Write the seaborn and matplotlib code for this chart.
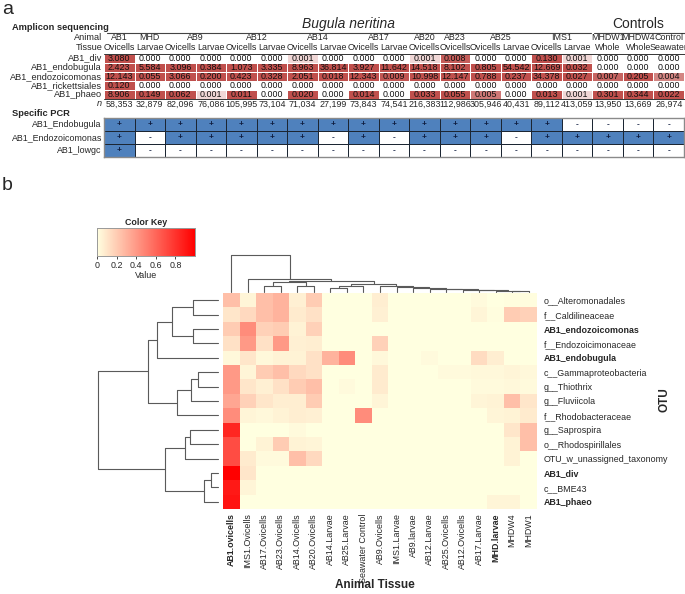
import numpy as np
import pandas as pd
import matplotlib
matplotlib.use("Agg")
import matplotlib.pyplot as plt
from matplotlib.colors import LinearSegmentedColormap, ListedColormap
import seaborn as sns

sns.set_style("white")
plt.rcParams['font.family'] = ['Liberation Sans', 'DejaVu Sans']

# ---------------- DATA: panel a ----------------
animals = ['AB1', 'MHD', 'AB9', 'AB9', 'AB12', 'AB12', 'AB14', 'AB14', 'AB17', 'AB17',
           'AB20', 'AB23', 'AB25', 'AB25', 'IMS1', 'IMS1', 'MHDW1', 'MHDW4', 'Control']
tissues = ['Ovicells', 'Larvae', 'Ovicells', 'Larvae', 'Ovicells', 'Larvae', 'Ovicells', 'Larvae',
           'Ovicells', 'Larvae', 'Ovicells', 'Ovicells', 'Ovicells', 'Larvae', 'Ovicells', 'Larvae',
           'Whole', 'Whole', 'Seawater']
amp_rows = ['AB1_div', 'AB1_endobugula', 'AB1_endozoicomonas', 'AB1_rickettsiales', 'AB1_phaeo']
amp_div = [3.080, 0.000, 0.000, 0.000, 0.000, 0.000, 0.001, 0.000, 0.000, 0.000,
           0.001, 0.008, 0.000, 0.000, 0.130, 0.001, 0.000, 0.000, 0.000]
amp_endobugula = [2.423, 5.584, 3.096, 0.384, 1.073, 3.335, 8.963, 36.814, 3.927, 11.642,
                  14.518, 8.102, 0.805, 54.542, 12.669, 0.032, 0.000, 0.000, 0.000]
amp_endozoicomonas = [12.143, 0.055, 3.066, 0.200, 0.423, 0.328, 2.051, 0.018, 12.343, 0.009,
                      10.998, 12.147, 0.788, 0.237, 34.378, 0.027, 0.007, 0.205, 0.004]
amp_rickettsiales = [0.120, 0.000, 0.000, 0.000, 0.000, 0.000, 0.000, 0.000, 0.000, 0.000,
                     0.000, 0.000, 0.000, 0.000, 0.000, 0.000, 0.000, 0.000, 0.000]
amp_phaeo = [8.906, 0.149, 0.062, 0.001, 0.011, 0.000, 0.020, 0.000, 0.014, 0.000,
             0.033, 0.055, 0.005, 0.000, 0.013, 0.001, 0.301, 0.344, 0.022]
n_reads = [58353, 32879, 82096, 76086, 105995, 73104, 71034, 27199, 73843, 74541,
           216383, 112986, 305946, 40431, 89112, 413059, 13950, 13669, 26974]

pcr_rows = ['AB1_Endobugula', 'AB1_Endozoicomonas', 'AB1_lowgc']
pcr_endobugula = list('+++++++++++++++----')
pcr_endozoicomonas = list('+-+++++-+-+++-+++++')
pcr_lowgc = list('+------------------')

# ---------------- DATA: panel b ----------------
hm_rows = ['o__Alteromonadales', 'f__Caldilineaceae', 'AB1_endozoicomonas', 'f__Endozoicimonaceae',
           'AB1_endobugula', 'c__Gammaproteobacteria', 'g__Thiothrix', 'g__Fluviicola',
           'f__Rhodobacteraceae', 'g__Saprospira', 'o__Rhodospirillales', 'OTU_w_unassigned_taxonomy',
           'AB1_div', 'c__BME43', 'AB1_phaeo']
hm_cols = ['AB1.ovicells', 'IMS1.Ovicells', 'AB17.Ovicells', 'AB23.Ovicells', 'AB14.Ovicells',
           'AB20.Ovicells', 'AB14.Larvae', 'AB25.Larvae', 'Seawater Control', 'AB9.Ovicells',
           'IMS1.Larvae', 'AB9.larvae', 'AB12.Larvae', 'AB25.Ovicells', 'AB12.Ovicells',
           'AB17.Larvae', 'MHD.larvae', 'MHDW4', 'MHDW1']
hm_values = [
    [0.25, 0.04, 0.25, 0.30, 0.06, 0.20, 0, 0, 0, 0.07, 0, 0, 0, 0, 0, 0.02, 0, 0.01, 0.01],
    [0.10, 0.15, 0.25, 0.30, 0.08, 0.12, 0, 0, 0, 0.06, 0, 0, 0, 0, 0, 0.04, 0.01, 0.20, 0.18],
    [0.20, 0.45, 0.18, 0.20, 0.05, 0.18, 0, 0, 0, 0, 0, 0, 0, 0, 0, 0, 0, 0, 0],
    [0.12, 0.40, 0.12, 0.40, 0.06, 0.07, 0, 0, 0, 0.18, 0, 0, 0, 0, 0, 0, 0, 0, 0],
    [0.03, 0.10, 0.03, 0.05, 0.05, 0.12, 0.30, 0.45, 0, 0.03, 0, 0, 0.02, 0, 0, 0.14, 0.07, 0, 0],
    [0.40, 0.04, 0.20, 0.25, 0.15, 0.12, 0, 0, 0, 0.08, 0, 0, 0, 0.02, 0.02, 0.03, 0.03, 0.04, 0.03],
    [0.40, 0.10, 0.06, 0.12, 0.20, 0.25, 0, 0.02, 0, 0.08, 0, 0, 0, 0, 0, 0.02, 0.02, 0.03, 0.02],
    [0.35, 0.18, 0.10, 0.07, 0.07, 0.20, 0, 0, 0, 0.04, 0, 0, 0, 0, 0, 0.04, 0.05, 0.25, 0.10],
    [0.45, 0.04, 0.03, 0.05, 0.07, 0.06, 0, 0, 0.45, 0, 0, 0, 0, 0, 0, 0, 0.04, 0.05, 0.08],
    [0.85, 0, 0, 0, 0.02, 0, 0, 0, 0, 0, 0, 0, 0, 0, 0, 0, 0, 0.10, 0.25],
    [0.70, 0, 0.05, 0.20, 0.05, 0.04, 0, 0, 0, 0, 0, 0, 0, 0, 0, 0, 0, 0.05, 0.25],
    [0.70, 0.08, 0.02, 0.02, 0.25, 0.15, 0, 0, 0, 0, 0, 0, 0, 0, 0, 0, 0, 0.05, 0],
    [1.00, 0.10, 0, 0, 0, 0, 0, 0, 0, 0, 0, 0, 0, 0, 0, 0, 0, 0, 0],
    [0.90, 0.04, 0, 0, 0, 0, 0, 0, 0, 0, 0, 0, 0, 0, 0, 0, 0, 0, 0],
    [0.92, 0, 0, 0, 0, 0, 0, 0, 0, 0, 0, 0, 0, 0, 0, 0, 0.04, 0.04, 0],
]
# dendrogram merges (child_a, child_b, height); new cluster ids start at n
row_merges = [(0, 1, 25), (2, 3, 25), (15, 16, 46), (17, 4, 61), (5, 6, 20), (19, 7, 27),
              (20, 8, 41), (18, 21, 70), (9, 10, 28), (23, 11, 33), (12, 13, 7), (25, 14, 14),
              (24, 26, 53), (22, 27, 120)]
col_merges = [(2, 3, 6), (4, 5, 6), (19, 20, 10), (6, 7, 4), (22, 8, 6),
              (17, 18, 1), (16, 24, 1.5), (15, 25, 2), (14, 26, 2.5), (13, 27, 3),
              (12, 28, 3.5), (11, 29, 4), (10, 30, 5), (9, 31, 6),
              (23, 32, 8), (21, 33, 11), (1, 34, 13), (0, 35, 37)]
bold_names = ['AB1_endozoicomonas', 'AB1_endobugula', 'AB1_div', 'AB1_phaeo',
              'AB1.ovicells', 'MHD.larvae']

# ---------------- FIGURE ----------------
W, H = 685, 594
fig = plt.figure(figsize=(W / 100, H / 100), dpi=100)


def rect(x0, y0, x1, y1):
    return [x0 / W, 1 - y1 / H, (x1 - x0) / W, (y1 - y0) / H]


def ftext(x, y, s, **kw):
    fig.text(x / W, 1 - y / H, s, **kw)


FS = 6.4
# ---- panel a: amplicon table ----
amp_vals = np.array([amp_div, amp_endobugula, amp_endozoicomonas, amp_rickettsiales, amp_phaeo])
shade = np.where(amp_vals > 0,
                 np.clip((np.log10(np.maximum(amp_vals, 1e-9)) + 3.3) / 1.3, 0, 1), 0)
amp_df = pd.DataFrame(shade, index=amp_rows)
amp_cmap = LinearSegmentedColormap.from_list('amp', ['#ffffff', '#c0504d'])
ax_amp = fig.add_axes(rect(104, 53.5, 684, 99))
sns.heatmap(amp_df, ax=ax_amp, cmap=amp_cmap, vmin=0, vmax=1, annot=amp_vals, fmt='.3f',
            annot_kws={'fontsize': FS, 'color': '#111111'}, cbar=False,
            linewidths=0.4, linecolor='white', xticklabels=False, yticklabels=amp_rows)
ax_amp.tick_params(left=False, bottom=False, length=0, pad=1.5, labelsize=6.6)
plt.setp(ax_amp.get_yticklabels(), rotation=0)
row_h = (99 - 53.5) / 5


def yd(py):
    return (py - 53.5) / row_h


ncol = len(tissues)
for i in range(ncol):
    ax_amp.text(i + 0.5, yd(47), tissues[i], ha='center', va='center', fontsize=FS, clip_on=False)
    ax_amp.text(i + 0.5, yd(104), f"{n_reads[i]:,}", ha='center', va='center', fontsize=FS,
                clip_on=False)
# group names centred over their columns
i = 0
while i < ncol:
    j = i
    while j + 1 < ncol and animals[j + 1] == animals[i]:
        j += 1
    ax_amp.text((i + j + 1) / 2, yd(37.5), animals[i], ha='center', va='center', fontsize=FS,
                clip_on=False)
    i = j + 1
ax_amp.text(-0.06, yd(37.5), 'Animal', ha='right', va='center', fontsize=6.6, clip_on=False)
ax_amp.text(-0.06, yd(47), 'Tissue', ha='right', va='center', fontsize=6.6, clip_on=False)
ax_amp.text(-0.06, yd(104), 'n', ha='right', va='center', fontsize=6.6, style='italic',
            clip_on=False)
ax_amp.plot([0.1, 15.95], [yd(33)] * 2, color='#444444', lw=0.8, clip_on=False)
ax_amp.plot([16.05, 19.2], [yd(33)] * 2, color='#444444', lw=0.8, clip_on=False)
ax_amp.plot([0, 19.2], [0, 0], color='#333333', lw=0.7, clip_on=False)
ax_amp.plot([0, 19.2], [5, 5], color='#333333', lw=0.7, clip_on=False)
ax_amp.text(8, yd(24), 'Bugula neritina', ha='center', va='center', fontsize=10,
            style='italic', clip_on=False)
ax_amp.text(17.5, yd(24), 'Controls', ha='center', va='center', fontsize=10, clip_on=False)

ftext(2, 10, 'a', fontsize=14, va='center', ha='left')
ftext(12, 27, 'Amplicon sequencing', fontsize=6.7, fontweight='bold', va='center')
ftext(12, 113, 'Specific PCR', fontsize=6.7, fontweight='bold', va='center')

# ---- panel a: PCR table ----
pcr_str = np.array([pcr_endobugula, pcr_endozoicomonas, pcr_lowgc])
pcr_num = pd.DataFrame((pcr_str == '+').astype(float), index=pcr_rows)
ax_pcr = fig.add_axes(rect(104, 118, 684, 157))
sns.heatmap(pcr_num, ax=ax_pcr, cmap=ListedColormap(['#ffffff', '#4f81bd']), vmin=0, vmax=1,
            annot=pcr_str, fmt='', annot_kws={'fontsize': 6, 'color': '#0d1b3e',
                                              'fontweight': 'bold'},
            cbar=False, linewidths=0.7, linecolor='#1c2633', xticklabels=False,
            yticklabels=pcr_rows)
ax_pcr.tick_params(left=False, bottom=False, length=0, pad=1.5, labelsize=6.4)
plt.setp(ax_pcr.get_yticklabels(), rotation=0)
for sp in ax_pcr.spines.values():
    sp.set_visible(True)
    sp.set_color('#8a8a8a')
    sp.set_linewidth(1.0)

# ---- panel b ----
ftext(2, 186, 'b', fontsize=14, va='center', ha='left')
key_cmap = LinearSegmentedColormap.from_list('key', ['#ffffe0', '#ff0000'])
ax_key = fig.add_axes(rect(97, 228, 195, 256))
ax_hm = fig.add_axes(rect(223, 293, 537, 509))
hm_df = pd.DataFrame(hm_values, index=hm_rows, columns=hm_cols)
sns.heatmap(hm_df, ax=ax_hm, cmap=key_cmap, vmin=0, vmax=1, cbar_ax=ax_key,
            cbar_kws={'orientation': 'horizontal', 'ticks': [0, 0.2, 0.4, 0.6, 0.8]},
            xticklabels=hm_cols, yticklabels=hm_rows)
ax_hm.yaxis.tick_right()
ax_hm.tick_params(axis='y', length=0, pad=5, labelsize=6.4)
ax_hm.tick_params(axis='x', length=0, pad=3, labelsize=6.4)
plt.setp(ax_hm.get_yticklabels(), rotation=0, ha='left')
plt.setp(ax_hm.get_xticklabels(), rotation=90, ha='center', va='top')
for lab in ax_hm.get_xticklabels() + ax_hm.get_yticklabels():
    if lab.get_text() in bold_names:
        lab.set_fontweight('bold')

ax_key.set_xticklabels(['0', '0.2', '0.4', '0.6', '0.8'])
ax_key.tick_params(axis='x', labelsize=6.4, length=2.5, width=0.6, pad=1, bottom=True,
                   direction='out')
ax_key.set_title('Color Key', fontsize=6.4, fontweight='bold', pad=2)
ax_key.set_xlabel('Value', fontsize=6.4, labelpad=0.5)
for sp in ax_key.spines.values():
    sp.set_visible(True)
    sp.set_color('#9a9a9a')
    sp.set_linewidth(0.6)

ftext(665, 400, 'OTU', fontsize=8.5, fontweight='bold', rotation=90, ha='center', va='center')
ftext(375, 585, 'Animal Tissue', fontsize=8.5, fontweight='bold', ha='center', va='center')


def dendro(merges, n):
    pos = {k: k + 0.5 for k in range(n)}
    hgt = {k: 0.0 for k in range(n)}
    segs = []
    for k, (a, b, h) in enumerate(merges):
        segs.append(([pos[a], pos[a], pos[b], pos[b]], [hgt[a], h, h, hgt[b]]))
        pos[n + k] = (pos[a] + pos[b]) / 2
        hgt[n + k] = h
    return segs


DCOL = '#5a5a5a'
ax_cd = fig.add_axes(rect(223, 255, 537, 292))
for xs, hs in dendro(col_merges, len(hm_cols)):
    ax_cd.plot(xs, hs, color=DCOL, lw=0.8, clip_on=False)
ax_cd.set_xlim(0, len(hm_cols))
ax_cd.set_ylim(0, 37)
ax_cd.axis('off')

ax_rd = fig.add_axes(rect(97, 293, 218, 509))
for ys, hs in dendro(row_merges, len(hm_rows)):
    ax_rd.plot(hs, ys, color=DCOL, lw=0.8, clip_on=False)
ax_rd.set_ylim(len(hm_rows), 0)
ax_rd.set_xlim(121, 0)
ax_rd.axis('off')

fig.savefig('out.png', dpi=100)
